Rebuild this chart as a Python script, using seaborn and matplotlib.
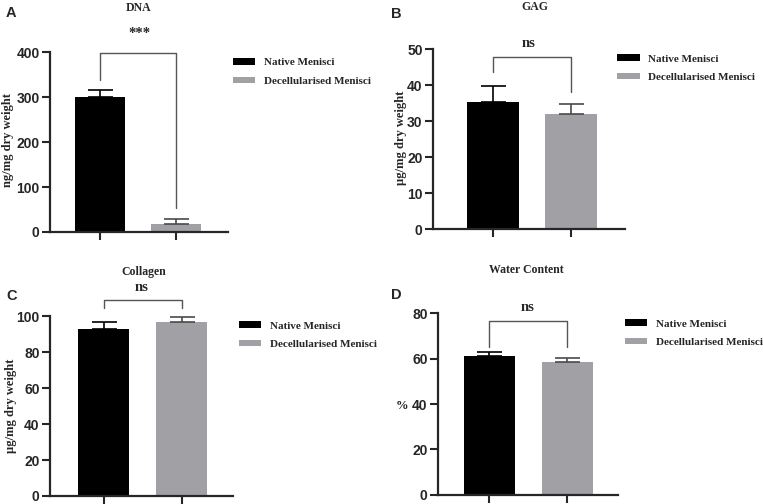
import pandas as pd
import matplotlib.pyplot as plt
import seaborn as sns
from matplotlib.patches import Patch

sns.set_style("ticks")
plt.rcParams["font.family"] = ["Liberation Sans", "DejaVu Sans"]

# ------------------------------------------------------------
# Data (mean and SD for each group)
# ------------------------------------------------------------
groups = ["Native Menisci", "Decellularised Menisci"]
colors = ["#000000", "#a1a1a5"]
err_colors = ["#000000", "#4a4a4a"]

dna_mean = [300, 18]
dna_sd = [15, 11]
gag_mean = [35.4, 32.1]
gag_sd = [4.4, 2.6]
col_mean = [92.6, 96.7]
col_sd = [4.2, 2.9]
water_mean = [61.2, 58.3]
water_sd = [1.5, 1.8]

titles = ["DNA", "GAG", "Collagen", "Water Content"]
ylabels = ["ng/mg dry weight", "µg/mg dry weight", "µg/mg dry weight", "%"]
stats = ["***", "ns", "ns", "ns"]
letters = ["A", "B", "C", "D"]

serif = ["Liberation Serif", "DejaVu Serif"]

fig = plt.figure(figsize=(7.63, 5.04), dpi=100)

# panel settings: axes rect, ylim, step, xlim, bracket (top, left end, right end)
panels = [
    dict(mean=dna_mean, sd=dna_sd, rect=[0.0655, 0.5397, 0.2333, 0.357], ymax=400, step=100,
         xlim=(-0.658, 1.684), br=(397, 338, 53), title_xy=(0.5, 1.244), stat_y=1.105,
         ylab_xy=(-0.235, 0.51), leg=(1.028, 0.965), letter=(0.008, 0.975)),
    dict(mean=gag_mean, sd=gag_sd, rect=[0.5675, 0.5456, 0.2516, 0.357], ymax=50, step=10,
         xlim=(-0.77, 1.69), br=(47.9, 43.7, 38.1), title_xy=(0.53, 1.233), stat_y=1.03,
         ylab_xy=(-0.165, 0.505), leg=(0.96, 0.97), letter=(0.512, 0.973)),
    dict(mean=col_mean, sd=col_sd, rect=[0.0655, 0.0159, 0.24, 0.357], ymax=100, step=20,
         xlim=(-0.69, 1.66), br=(108.9, 104.3, 104.3), title_xy=(0.51, 1.244), stat_y=1.16,
         ylab_xy=(-0.215, 0.5), leg=(1.03, 0.97), letter=(0.008, 0.413)),
    dict(mean=water_mean, sd=water_sd, rect=[0.574, 0.0179, 0.236, 0.361], ymax=80, step=20,
         xlim=(-0.66, 1.65), br=(76.6, 65.2, 65.2), title_xy=(0.49, 1.236), stat_y=1.03,
         ylab_xy=(-0.2, 0.49), leg=(1.04, 0.965), letter=(0.512, 0.415)),
]

for i, p in enumerate(panels):
    ax = fig.add_axes(p["rect"])
    df = pd.DataFrame({"group": groups, "value": p["mean"]})
    sns.barplot(data=df, x="group", y="value", hue="group", palette=colors,
                width=0.66, errorbar=None, legend=False, ax=ax, saturation=1, linewidth=0)

    # upper SD error bars
    for j in range(2):
        ax.errorbar(j, p["mean"][j], yerr=[[0], [p["sd"][j]]], fmt="none",
                    ecolor=err_colors[j], elinewidth=1.2, capsize=9, capthick=1.2, zorder=1)

    # significance bracket
    top, l_end, r_end = p["br"]
    ax.plot([0, 0, 1, 1], [l_end, top, top, r_end], color="#555555", lw=1.0, clip_on=False)
    ax.text(0.5, p["stat_y"], stats[i], transform=ax.transAxes,
            ha="center", va="center", fontsize=10.5, fontweight="bold", family=serif)

    ax.set_xlim(*p["xlim"])
    ax.set_ylim(0, p["ymax"])
    ax.set_yticks(range(0, p["ymax"] + 1, p["step"]))
    ax.set_xticks([0, 1])
    ax.set_xticklabels([])
    ax.set_xlabel("")
    ax.tick_params(axis="y", length=6, width=1.5, labelsize=10, pad=1.5)
    ax.tick_params(axis="x", length=6, width=1.5)
    for lab in ax.get_yticklabels():
        lab.set_fontweight("bold")
    sns.despine(ax=ax)
    ax.spines["left"].set_linewidth(1.6)
    ax.spines["bottom"].set_linewidth(1.6)

    ax.set_ylabel(ylabels[i], fontsize=9, fontweight="bold", family=serif,
                  rotation=0 if ylabels[i] == "%" else 90, va="center", ha="center")
    ax.yaxis.set_label_coords(*p["ylab_xy"])

    ax.text(p["title_xy"][0], p["title_xy"][1], titles[i], transform=ax.transAxes,
            ha="center", va="center", fontsize=8.5, fontweight="bold", family=serif)

    handles = [Patch(facecolor=c, edgecolor="none") for c in colors]
    ax.legend(handles, groups, loc="upper left", bbox_to_anchor=p["leg"], frameon=False,
              prop={"family": serif, "weight": "bold", "size": 8},
              handlelength=2.0, handleheight=0.5, handletextpad=0.8,
              labelspacing=0.85, borderpad=0, borderaxespad=0)

    fig.text(p["letter"][0], p["letter"][1], letters[i], fontsize=10.5, fontweight="bold",
             ha="left", va="center")

plt.savefig("out.png", dpi=100)
